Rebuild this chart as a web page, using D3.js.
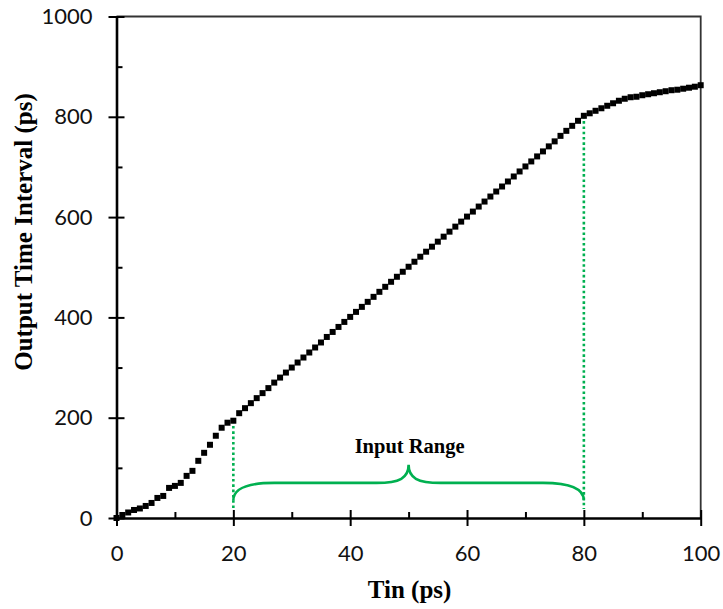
<!DOCTYPE html>
<html>
<head>
<meta charset="utf-8">
<title>Output time interval vs Tin</title>
<script src="https://d3js.org/d3.v7.min.js"></script>
<style>
	body { margin: 0; background: #fff; }
	.tick text { font-family: Lato, "Open Sans", sans-serif; font-size: 22px; fill: #111; }
	.title { font-family: "Liberation Serif", "Times New Roman", serif; font-weight: bold; fill: #000; }
</style>
</head>
<body>
<div id="chart"></div>
<script type="text/javascript">

	// data: one marker per ps
	var tin = [0,1,2,3,4,5,6,7,8,9,10,11,12,13,14,15,16,17,18,19,20,
		21,22,23,24,25,26,27,28,29,30,31,32,33,34,35,36,37,38,39,40,
		41,42,43,44,45,46,47,48,49,50,51,52,53,54,55,56,57,58,59,60,
		61,62,63,64,65,66,67,68,69,70,71,72,73,74,75,76,77,78,79,80,
		81,82,83,84,85,86,87,88,89,90,91,92,93,94,95,96,97,98,99,100];
	var tout = [0,6,11,16,19,24,30,40,44,60,64,70,84,94,114,130,146,164,180,190,194,
		209,219,229,239,249,259,270,280,290,300,310,320,330,340,350,361,371,381,391,401,
		411,421,431,441,451,461,471,481,491,501,511,521,531,541,551,561,571,581,591,601,
		611,621,631,641,651,661,671,681,691,701,711,721,731,741,751,762,772,782,792,802,
		807,812,817,822,827,832,836,839,840,843,845,847,849,851,853,854,856,858,860,863];

	var xMajor = [0, 20, 40, 60, 80, 100];
	var xMinor = [10, 30, 50, 70, 90];
	var yMajor = [0, 200, 400, 600, 800, 1000];
	var yMinor = [100, 300, 500, 700, 900];

	// input range marks
	var rangeStart = 20, rangeEnd = 80;
	var rangeLabel = "Input Range";

	var width = 723, height = 609;
	var green = "#00b050";

	var svg = d3.select("#chart").append("svg")
		.attr("width", width)
		.attr("height", height);

	var x = d3.scaleLinear().domain([0, 100]).range([116.5, 700.7]);
	var y = d3.scaleLinear().domain([0, 1000]).range([518, 16.5]);

	// plot area border (top + right)
	svg.append("path")
		.attr("d", "M" + x(0) + "," + y(1000) + "H" + x(100) + "V" + y(0))
		.attr("fill", "none")
		.attr("stroke", "#333")
		.attr("stroke-width", 1.8);

	// minor ticks, inside only
	svg.append("g")
		.attr("transform", "translate(0," + y(0) + ")")
		.call(d3.axisBottom(x).tickValues(xMinor).tickSize(-6).tickSizeOuter(0).tickFormat(""))
		.call(function(g){ g.select(".domain").remove(); })
		.selectAll("line").attr("stroke", "#000").attr("stroke-width", 2);

	svg.append("g")
		.attr("transform", "translate(" + x(0) + ",0)")
		.call(d3.axisLeft(y).tickValues(yMinor).tickSize(-6).tickSizeOuter(0).tickFormat(""))
		.call(function(g){ g.select(".domain").remove(); })
		.selectAll("line").attr("stroke", "#000").attr("stroke-width", 2);

	// major axes, ticks crossing the line
	var xAxis = svg.append("g")
		.attr("transform", "translate(0," + y(0) + ")")
		.call(d3.axisBottom(x).tickValues(xMajor).tickSize(8).tickSizeOuter(0).tickPadding(19.5).tickFormat(d3.format("d")));
	xAxis.selectAll(".tick line").attr("y1", -8).attr("stroke-width", 2);
	xAxis.select(".domain").attr("stroke-width", 2.6);

	var yAxis = svg.append("g")
		.attr("transform", "translate(" + x(0) + ",0)")
		.call(d3.axisLeft(y).tickValues(yMajor).tickSize(8).tickSizeOuter(0).tickPadding(16).tickFormat(d3.format("d")));
	yAxis.selectAll(".tick line").attr("x1", 8).attr("stroke-width", 2);
	yAxis.select(".domain").attr("stroke-width", 2.6);
	svg.selectAll(".tick text").attr("font-family", null).attr("font-size", null);

	// green dotted drop lines at the range ends
	[rangeStart, rangeEnd].forEach(function(t){
		svg.append("line")
			.attr("x1", x(t)).attr("x2", x(t))
			.attr("y1", y(tout[tin.indexOf(t)])).attr("y2", y(18))
			.attr("stroke", green)
			.attr("stroke-width", 2.6)
			.attr("stroke-dasharray", "2.6,2.7");
	});

	// curly brace
	var mid = (rangeStart + rangeEnd) / 2;
	var brace = d3.path();
	brace.moveTo(x(rangeStart), y(35));
	brace.bezierCurveTo(x(rangeStart), y(58), x(rangeStart + 2.5), y(70), x(rangeStart + 7), y(70));
	brace.lineTo(x(mid - 5.5), y(70));
	brace.bezierCurveTo(x(mid - 1.5), y(70), x(mid), y(80), x(mid), y(106));
	brace.bezierCurveTo(x(mid), y(80), x(mid + 1.5), y(70), x(mid + 5.5), y(70));
	brace.lineTo(x(rangeEnd - 7), y(70));
	brace.bezierCurveTo(x(rangeEnd - 2.5), y(70), x(rangeEnd), y(58), x(rangeEnd), y(35));

	svg.append("path")
		.attr("d", brace.toString())
		.attr("fill", "none")
		.attr("stroke", green)
		.attr("stroke-width", 2.6);

	svg.append("text")
		.attr("class", "title")
		.attr("x", x(mid) + 1)
		.attr("y", 453)
		.attr("text-anchor", "middle")
		.style("font-size", "20.5px")
		.text(rangeLabel);

	// square markers
	var pts = tin.map(function(t, i){ return {t: t, v: tout[i]}; });
	svg.append("g").selectAll("rect")
		.data(pts)
		.enter().append("rect")
		.attr("x", function(d){ return x(d.t) - 3; })
		.attr("y", function(d){ return y(d.v) - 3; })
		.attr("width", 6)
		.attr("height", 6)
		.attr("fill", "#000");

	// axis titles
	svg.append("text")
		.attr("class", "title")
		.attr("x", x(50) + 1)
		.attr("y", 598)
		.attr("text-anchor", "middle")
		.style("font-size", "25px")
		.text("Tin (ps)");

	svg.append("text")
		.attr("class", "title")
		.attr("transform", "translate(32,232) rotate(-90)")
		.attr("text-anchor", "middle")
		.style("font-size", "25px")
		.text("Output Time Interval (ps)");

</script>
</body>
</html>
